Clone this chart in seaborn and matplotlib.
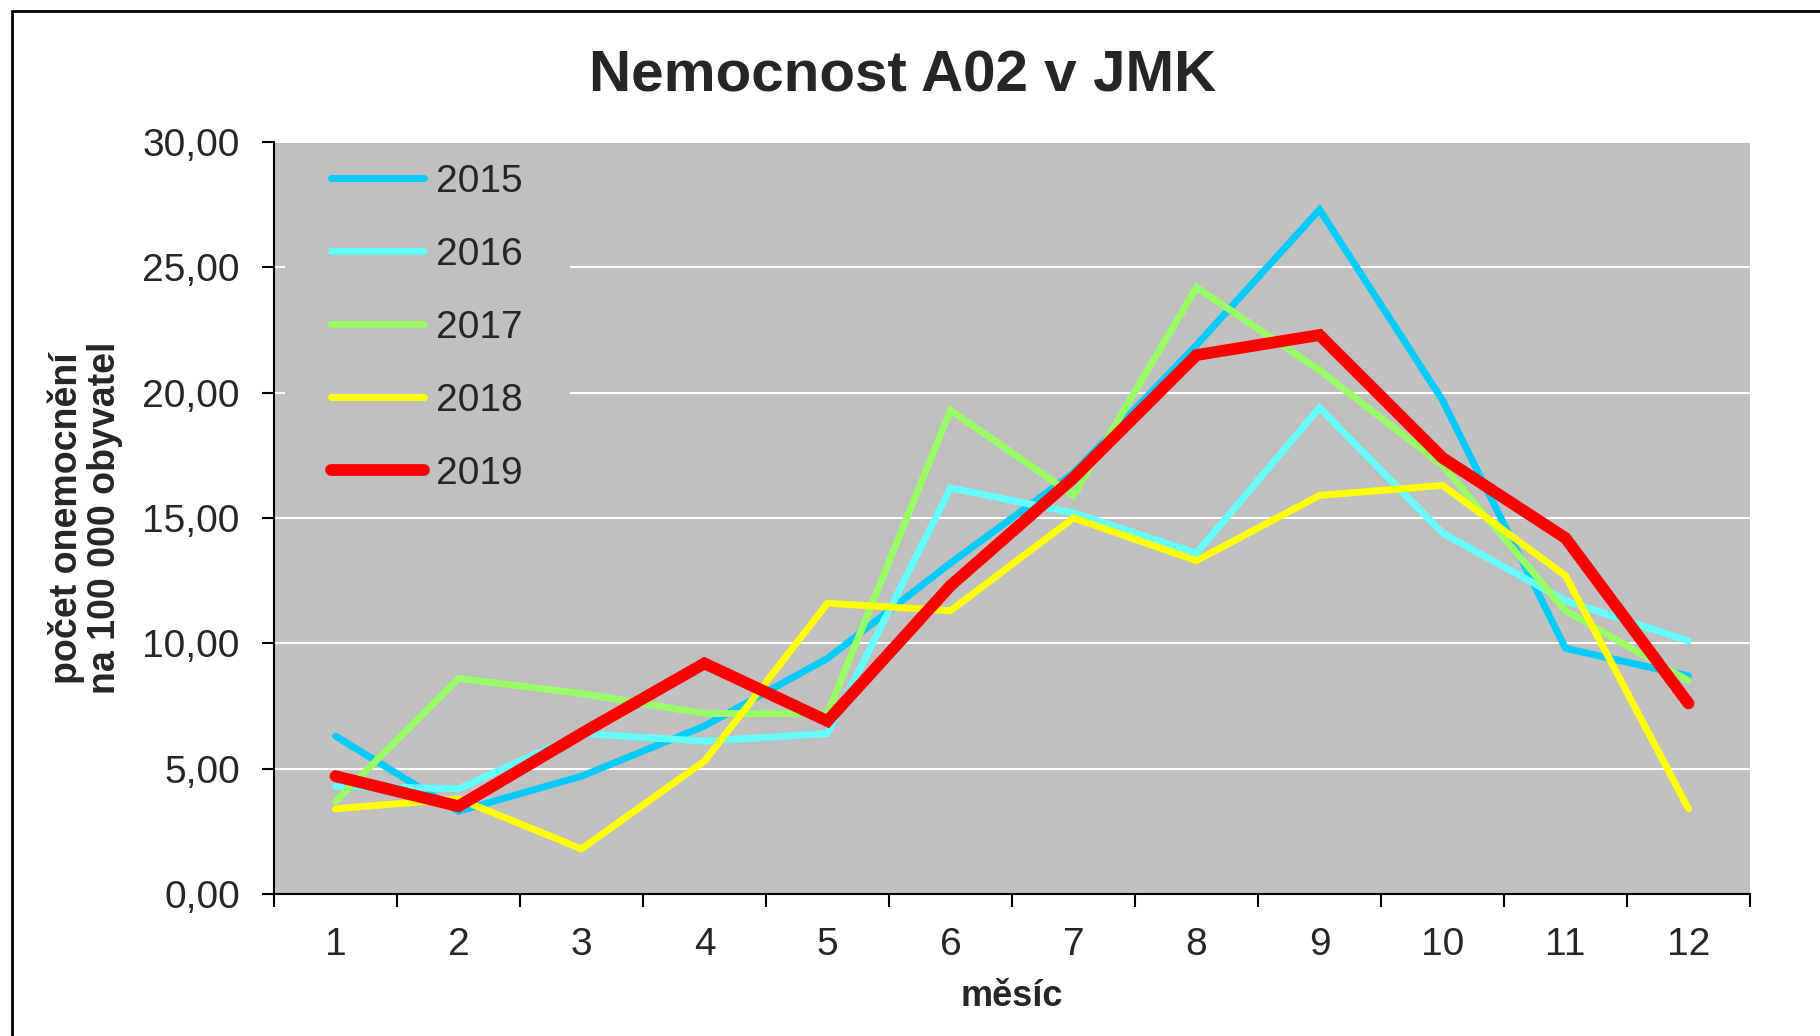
#!/usr/bin/env python3
# -*- coding: utf-8 -*-
"""
Nemocnost A02 v JMK - čárový graf podle měsíců
"""

import matplotlib
matplotlib.use("Agg")
import matplotlib.pyplot as plt
from matplotlib.lines import Line2D
from matplotlib.patches import Rectangle
from matplotlib.ticker import FixedLocator, NullFormatter
import seaborn as sns
import pandas as pd

# Data
mesice = list(range(1, 13))
roky = ["2015", "2016", "2017", "2018", "2019"]
r2015 = [6.3, 3.3, 4.7, 6.7, 9.4, 13.2, 16.8, 21.9, 27.3, 19.7, 9.8, 8.7]
r2016 = [4.3, 4.2, 6.4, 6.1, 6.4, 16.2, 15.2, 13.6, 19.4, 14.4, 11.7, 10.1]
r2017 = [3.7, 8.6, 8.0, 7.2, 7.2, 19.3, 15.9, 24.2, 20.9, 17.1, 11.3, 8.5]
r2018 = [3.4, 3.8, 1.8, 5.3, 11.6, 11.3, 15.0, 13.3, 15.9, 16.3, 12.7, 3.4]
r2019 = [4.7, 3.5, 6.4, 9.2, 6.9, 12.3, 16.6, 21.5, 22.3, 17.4, 14.2, 7.6]
hodnoty = [r2015, r2016, r2017, r2018, r2019]

barvy = {"2015": "#00CCFF", "2016": "#66FFFF", "2017": "#99FF66",
         "2018": "#FFFF00", "2019": "#FF0000"}
tloustky = {"2015": 5, "2016": 5, "2017": 5, "2018": 5, "2019": 8.5}

df = pd.DataFrame({
    "mesic": mesice * len(roky),
    "hodnota": [v for serie in hodnoty for v in serie],
    "rok": [r for r in roky for _ in mesice],
})

sns.set_style("white")
plt.rcParams["font.family"] = ["Liberation Sans", "DejaVu Sans"]

fig = plt.figure(figsize=(18.2, 10.36), dpi=100)
ax = fig.add_axes([274 / 1820, 1 - 894 / 1036, 1476 / 1820, 752 / 1036])
ax.set_facecolor("#C0C0C0")

for rok in roky:
    sns.lineplot(data=df[df["rok"] == rok], x="mesic", y="hodnota",
                 color=barvy[rok], linewidth=tloustky[rok], label=rok,
                 solid_capstyle="round", solid_joinstyle="miter", ax=ax,
                 zorder=3)

# Osy
ax.set_xlim(0.5, 12.5)
ax.set_ylim(0, 30)
ax.set_yticks(range(0, 31, 5))
ax.set_yticklabels([f"{v:.2f}".replace(".", ",") for v in range(0, 31, 5)])
ax.xaxis.set_major_locator(FixedLocator([m + 0.5 for m in range(0, 13)]))
ax.xaxis.set_major_formatter(NullFormatter())
ax.xaxis.set_minor_locator(FixedLocator(mesice))
ax.set_xticklabels([str(m) for m in mesice], minor=True)
ax.tick_params(axis="x", which="major", length=9.4, width=1.5,
               direction="out", bottom=True, color="black")
ax.tick_params(axis="x", which="minor", length=0, pad=24, labelsize=28,
               bottom=True)
ax.tick_params(axis="y", length=8.6, width=1.5, direction="out", left=True,
               pad=16, labelsize=28, color="black")

ax.grid(axis="y", color="white", linewidth=1.5)
ax.grid(axis="x", visible=False)
ax.set_axisbelow(True)
for s in ["top", "right"]:
    ax.spines[s].set_visible(False)
for s in ["left", "bottom"]:
    ax.spines[s].set_color("black")
    ax.spines[s].set_linewidth(1.5)

ax.set_xlabel("měsíc", fontsize=26, fontweight="bold", labelpad=11.5)
ax.set_ylabel("počet onemocnění\nna 100 000 obyvatel", fontsize=27,
              fontweight="bold", linespacing=1.05)
ax.yaxis.label.set_va("center")
ax.yaxis.set_label_coords(-0.128, 0.5)

# Pozadí legendy zakrývá mřížku
ax.add_patch(Rectangle((0.0075, 0.524), 0.193, 0.472, transform=ax.transAxes,
                       facecolor="#C0C0C0", edgecolor="none", zorder=1.5))
leg = ax.legend(loc="upper left", bbox_to_anchor=(0.0386, 0.971),
                fontsize=28, frameon=False, handlelength=2.4,
                handletextpad=0.3, labelspacing=0.95, borderpad=0,
                borderaxespad=0)

fig.suptitle("Nemocnost A02 v JMK", fontsize=42, fontweight="bold",
             x=903 / 1820, y=1 - 76 / 1036, va="center")

# Rámeček grafu (jen levá a horní hrana je v záběru)
fig.add_artist(Line2D([12 / 1820, 1.0], [1 - 11 / 1036, 1 - 11 / 1036],
                      color="black", linewidth=2))
fig.add_artist(Line2D([12 / 1820, 12 / 1820], [0.0, 1 - 11 / 1036],
                      color="black", linewidth=2))

fig.savefig("out.png", dpi=100, facecolor="white")
plt.close(fig)
